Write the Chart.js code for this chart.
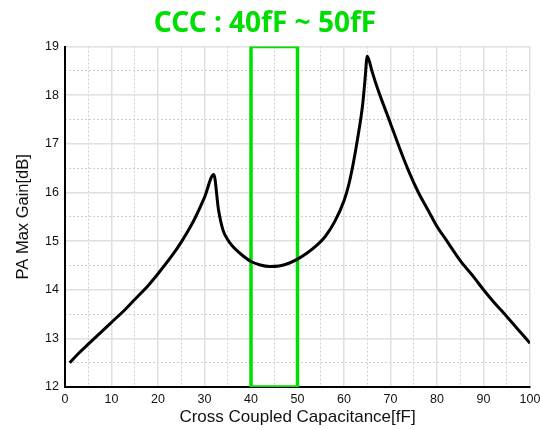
<!DOCTYPE html>
<html>
<head>
<meta charset="utf-8">
<script src="https://cdn.jsdelivr.net/npm/chart.js@4/dist/chart.umd.min.js"></script>
<style>
  html, body { margin: 0; padding: 0; background: #fff; }
  #wrap { width: 540px; height: 430px; }
</style>
</head>
<body>
<div id="wrap"><canvas id="chartGain" width="540" height="430"></canvas></div>
<script>
// capacitance sweep [fF] and gain [dB]
const capX = [1, 3, 5, 8, 10, 13, 15, 18, 20, 23, 25, 27, 28, 30, 32,
  33, 34, 35, 36, 38, 40, 42, 44, 46, 48, 50, 52, 54, 56, 58, 60, 61, 62, 63, 64, 64.5, 65,
  66, 67, 68, 70, 72, 74, 76, 78, 80, 82, 85, 88, 90, 92, 95, 98, 100];
const gainDb = [12.5, 12.7, 12.88, 13.15, 13.33, 13.6, 13.8, 14.1, 14.33, 14.7, 14.98, 15.3, 15.48, 15.9, 16.37,
  15.65, 15.22, 15.03, 14.9, 14.72, 14.58, 14.51, 14.48, 14.49, 14.54, 14.63, 14.75, 14.9, 15.1, 15.4, 15.83, 16.15, 16.6, 17.15, 17.8, 18.3, 18.8,
  18.5, 18.2, 17.93, 17.42, 16.9, 16.42, 16.0, 15.65, 15.3, 15.02, 14.6, 14.25, 14.0, 13.77, 13.45, 13.12, 12.9];

// highlighted window
const boxX = [40, 40, 50, 50, 40];
const boxY = [12, 19, 19, 12, 12];

const xTicks = { min: 0, max: 100, step: 10, minor: 5 };
const yTicks = { min: 12, max: 19, step: 1, minor: 0.5 };

const titleText = 'CCC : 40fF ~ 50fF';
const xTitle = 'Cross Coupled Capacitance[fF]';
const yTitle = 'PA Max Gain[dB]';

const FONT = "'Liberation Sans', Arial, sans-serif";

const curve = capX.map((x, i) => ({ x, y: gainDb[i] }));
const box = boxX.map((x, i) => ({ x, y: boxY[i] }));

// dotted lines on the half steps only, major lines come from the main axes
const minorGrid = (step) => ({
  color: (ctx) => (ctx.tick && Math.abs(ctx.tick.value / step - Math.round(ctx.tick.value / step)) < 1e-6) ? 'rgba(0,0,0,0)' : '#cfcfcf',
  lineWidth: 1,
  drawTicks: false
});

new Chart(document.getElementById('chartGain'), {
  type: 'line',
  data: {
    datasets: [
      { data: curve, borderColor: '#000', borderWidth: 3, pointRadius: 0, cubicInterpolationMode: 'monotone', xAxisID: 'x', yAxisID: 'y' },
      { data: box, borderColor: '#00dd00', borderWidth: 3.5, pointRadius: 0, tension: 0, xAxisID: 'x', yAxisID: 'y' }
    ]
  },
  options: {
    responsive: false,
    animation: false,
    layout: { padding: { left: 0, right: 10, top: 0, bottom: 0 } },
    plugins: {
      legend: { display: false },
      tooltip: { enabled: false },
      title: {
        display: true, text: titleText, color: '#00dd00',
        font: { family: "'Noto Sans', sans-serif", size: 28, weight: 'bold' },
        padding: { top: 7, bottom: 6 }
      }
    },
    scales: {
      x2: {
        type: 'linear', position: 'bottom', min: xTicks.min, max: xTicks.max,
        ticks: { display: false, stepSize: xTicks.minor },
        grid: minorGrid(xTicks.step),
        border: { display: false, dash: [2, 2] },
        afterFit: (s) => { s.height = 0; }
      },
      y2: {
        type: 'linear', position: 'left', min: yTicks.min, max: yTicks.max,
        ticks: { display: false, stepSize: yTicks.minor },
        grid: minorGrid(yTicks.step),
        border: { display: false, dash: [2, 2] },
        afterFit: (s) => { s.width = 0; }
      },
      x: {
        type: 'linear', position: 'bottom', min: xTicks.min, max: xTicks.max,
        ticks: { stepSize: xTicks.step, color: '#111', font: { family: FONT, size: 12.5 }, padding: 5, maxRotation: 0 },
        grid: { color: '#e0e0e0', lineWidth: 1.5, drawTicks: false },
        border: { color: '#000', width: 2 },
        title: { display: true, text: xTitle, color: '#111', font: { family: FONT, size: 17 }, padding: 2 },
        afterFit: (s) => { s.height = 43; s.paddingLeft = 0; s.paddingRight = 0; }
      },
      y: {
        type: 'linear', position: 'left', min: yTicks.min, max: yTicks.max,
        ticks: { stepSize: yTicks.step, color: '#111', font: { family: FONT, size: 12.5 }, padding: 6 },
        grid: { color: '#e0e0e0', lineWidth: 1.5, drawTicks: false },
        border: { color: '#000', width: 2 },
        title: { display: true, text: yTitle, color: '#111', font: { family: FONT, size: 16.5 }, padding: 14 },
        afterFit: (s) => { s.width = 65; }
      }
    }
  }
});
</script>
</body>
</html>
